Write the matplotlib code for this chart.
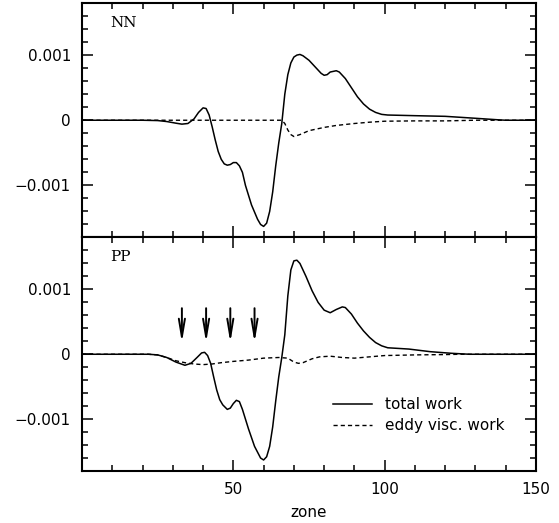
import matplotlib
matplotlib.use('Agg')
import matplotlib.pyplot as plt
import numpy as np

# Trabalho total e viscosidade turbulenta (unidades de 1e-3), lidos da figura
# painel NN
nn_zona = [0, 10, 20, 25, 28, 31, 33, 35, 37, 38.5, 40, 41, 42, 43, 44, 45, 46, 47,
           48, 49, 50, 51, 52, 53, 54, 56, 58, 59, 60, 61, 62, 63, 64, 65, 66, 67,
           68, 69, 70, 71, 72, 73, 75, 77, 79, 80, 81, 82, 84, 85, 87, 89, 91, 93,
           95, 97, 99, 101, 110, 120, 130, 138, 140, 150]
nn_total = [0, 0, 0, -0.005, -0.02, -0.045, -0.06, -0.05, 0.02, 0.12, 0.19, 0.18,
            0.08, -0.1, -0.3, -0.48, -0.6, -0.67, -0.69, -0.68, -0.65, -0.65, -0.7,
            -0.8, -1.0, -1.3, -1.52, -1.6, -1.63, -1.58, -1.4, -1.1, -0.7, -0.35,
            -0.05, 0.4, 0.7, 0.88, 0.97, 1.0, 1.01, 0.99, 0.92, 0.82, 0.72, 0.69,
            0.70, 0.74, 0.76, 0.74, 0.64, 0.5, 0.36, 0.25, 0.17, 0.12, 0.09, 0.08,
            0.07, 0.06, 0.03, 0.005, 0, 0]
nn_ezona = [0, 66, 67, 68, 69, 70, 72, 75, 80, 84, 90, 95, 100, 110, 120, 130, 150]
nn_eddy = [0, 0, -0.05, -0.15, -0.22, -0.25, -0.22, -0.16, -0.11, -0.08, -0.05,
           -0.03, -0.015, -0.01, -0.01, 0, 0]

# painel PP
pp_zona = [0, 10, 22, 25, 28, 31, 34, 36, 38, 39.5, 40.5, 41.5, 42.5, 43.5, 44.5,
           45.5, 46.5, 48, 49, 50, 51, 52, 53, 55, 57, 59, 60, 61, 62, 63, 64, 65,
           66, 67, 68, 69, 70, 71, 72, 74, 76, 78, 80, 82, 84, 86, 87, 89, 91, 93,
           95, 97, 99, 101, 108, 115, 122, 128, 150]
pp_total = [0, 0, 0, -0.01, -0.05, -0.12, -0.17, -0.14, -0.05, 0.02, 0.03, -0.02,
            -0.14, -0.35, -0.55, -0.7, -0.78, -0.85, -0.83, -0.76, -0.71, -0.73,
            -0.85, -1.15, -1.42, -1.6, -1.63, -1.58, -1.42, -1.12, -0.72, -0.35,
            -0.05, 0.3, 0.9, 1.3, 1.44, 1.45, 1.4, 1.2, 0.98, 0.8, 0.68, 0.64, 0.69,
            0.73, 0.72, 0.62, 0.48, 0.36, 0.26, 0.18, 0.13, 0.1, 0.08, 0.04, 0.015,
            0, 0]
pp_ezona = [0, 22, 25, 28, 31, 34, 37, 40, 43, 46, 50, 55, 60, 65, 68, 70, 71.5, 73,
            76, 78.5, 82, 86, 90, 95, 100, 110, 120, 125, 150]
pp_eddy = [0, 0, -0.01, -0.05, -0.1, -0.13, -0.15, -0.16, -0.15, -0.13, -0.11,
           -0.09, -0.06, -0.05, -0.06, -0.12, -0.14, -0.13, -0.07, -0.04, -0.03,
           -0.05, -0.06, -0.04, -0.02, -0.01, -0.005, 0, 0]

# posicoes das setas no painel PP
setas = [33, 41, 49, 57]

y_ticks = [0.001, 0, -0.001]
y_labels = ['0.001', '0', '\u22120.001']
x_ticks = [50, 100, 150]
x_labels = ['50', '100', '150']

plt.rcParams['font.family'] = 'DejaVu Sans'
fig = plt.figure(figsize=(5.59, 5.23), dpi=100)
ax1 = fig.add_axes([0.1467, 0.5459, 0.8122, 0.4484])
ax2 = fig.add_axes([0.1467, 0.0994, 0.8122, 0.4465])

tracejado = (0, (3, 2.2))

def eixo(ax, rotulo):
    ax.set_xlim(0, 150)
    ax.set_ylim(-0.0018, 0.0018)
    ax.set_yticks(y_ticks)
    ax.set_yticklabels(y_labels)
    ax.set_yticks(np.arange(-0.0018, 0.00181, 0.0002), minor=True)
    ax.set_xticks(x_ticks)
    ax.set_xticks(np.arange(10, 150, 10), minor=True)
    ax.tick_params(which='both', direction='in', top=True, right=True, width=1.1,
                   labelsize=11)
    ax.tick_params(which='major', length=8, pad=8)
    ax.tick_params(which='minor', length=4.5)
    for s in ax.spines.values():
        s.set_linewidth(1.5)
    ax.text(0.062, 0.915, rotulo, transform=ax.transAxes, fontsize=11,
            family='DejaVu Serif', va='center', ha='left')

# painel de cima
ax1.plot(nn_zona, np.array(nn_total) * 1e-3, 'k-', lw=1.1)
ax1.plot(nn_ezona, np.array(nn_eddy) * 1e-3, color='k', ls=tracejado, lw=1.0)
eixo(ax1, 'NN')
ax1.set_xticklabels([])

# painel de baixo
ax2.plot(pp_zona, np.array(pp_total) * 1e-3, 'k-', lw=1.1, label='total work')
ax2.plot(pp_ezona, np.array(pp_eddy) * 1e-3, color='k', ls=tracejado, lw=1.0,
         label='eddy visc. work')
eixo(ax2, 'PP')
ax2.set_xticklabels(x_labels)
ax2.set_xlabel('zone', fontsize=11, labelpad=6)

for s in setas:
    ax2.annotate('', xy=(s, 0.00018), xytext=(s, 0.00071),
                 arrowprops=dict(arrowstyle='->, head_length=0.65, head_width=0.11',
                                 mutation_scale=20, lw=1.4, color='k',
                                 shrinkA=0, shrinkB=0))

ax2.legend(loc='upper left', bbox_to_anchor=(0.552, 0.317), frameon=False,
           fontsize=11, handlelength=2.55, handletextpad=0.85, borderpad=0,
           borderaxespad=0, labelspacing=0.4)

fig.savefig('out.png', dpi=100)
